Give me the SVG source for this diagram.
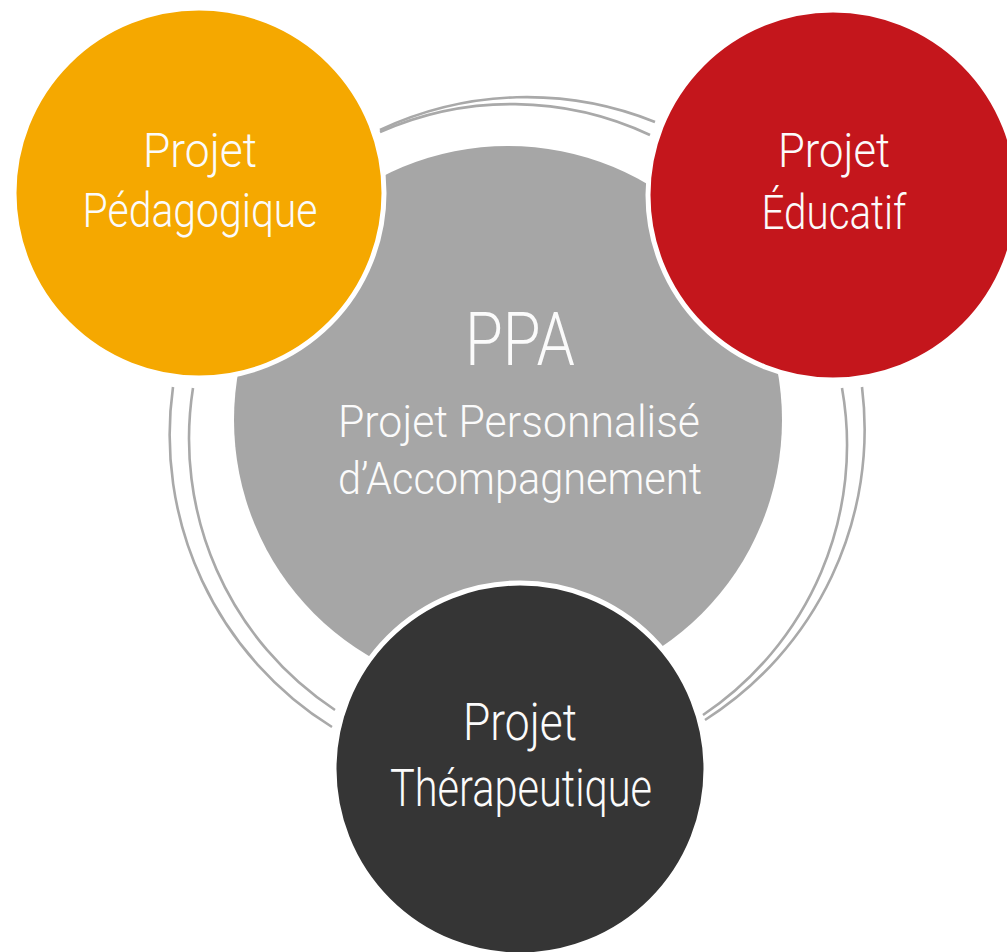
<svg xmlns="http://www.w3.org/2000/svg" width="1007" height="952" viewBox="0 0 1007 952">
  <style>
    .ring { fill: none; stroke: #a9a9a9; stroke-width: 2.6; }
    .bubble { stroke: #ffffff; stroke-width: 5; }
    .lbl { font-family: Roboto, "Open Sans", "Liberation Sans", sans-serif; font-weight: 300; fill: #fbfbfb; text-anchor: middle; }
  </style>
  <rect width="1007" height="952" fill="#ffffff"/>
  <g id="rings">
    <path class="ring" d="M380,130 A344,344 0 0 1 655,122"/>
    <path class="ring" d="M380,132 A325,325 0 0 1 650,135"/>
    <path class="ring" d="M173,387 A344,344 0 0 0 332,727"/>
    <path class="ring" d="M193,388 A325,325 0 0 0 335,710"/>
    <path class="ring" d="M862,387 A344,344 0 0 1 705,720"/>
    <path class="ring" d="M842,388 A325,325 0 0 1 703,715"/>
  </g>
  <g id="ppa">
    <circle cx="508" cy="420" r="274" fill="#a6a6a6"/>
    <text class="lbl" x="520" y="365" font-size="75" textLength="110" lengthAdjust="spacingAndGlyphs">PPA</text>
    <text class="lbl" x="519" y="437" font-size="45" textLength="362" lengthAdjust="spacingAndGlyphs">Projet Personnalisé</text>
    <text class="lbl" x="520" y="494" font-size="45" textLength="364" lengthAdjust="spacingAndGlyphs">d’Accompagnement</text>
  </g>
  <g id="pedagogique">
    <circle class="bubble" cx="199" cy="193" r="185" fill="#f5a800"/>
    <text class="lbl" x="200" y="167" font-size="49" textLength="114" lengthAdjust="spacingAndGlyphs">Projet</text>
    <text class="lbl" x="200" y="227" font-size="49" textLength="235" lengthAdjust="spacingAndGlyphs">Pédagogique</text>
  </g>
  <g id="educatif">
    <circle class="bubble" cx="833" cy="195" r="185" fill="#c4161c"/>
    <text class="lbl" x="834" y="167" font-size="49" textLength="112" lengthAdjust="spacingAndGlyphs">Projet</text>
    <text class="lbl" x="834" y="229" font-size="49" textLength="145" lengthAdjust="spacingAndGlyphs">Éducatif</text>
  </g>
  <g id="therapeutique">
    <circle class="bubble" cx="520" cy="769" r="186" fill="#353535"/>
    <text class="lbl" x="520" y="740" font-size="51" textLength="114" lengthAdjust="spacingAndGlyphs">Projet</text>
    <text class="lbl" x="521" y="806" font-size="51" textLength="262" lengthAdjust="spacingAndGlyphs">Thérapeutique</text>
  </g>
</svg>
